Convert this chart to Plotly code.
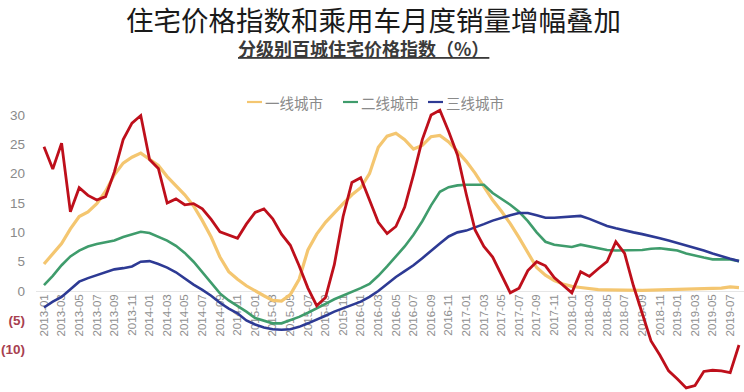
import plotly.graph_objects as go

# ---- categories ----
months = [f"{y}-{m:02d}" for y in range(2013, 2020) for m in range(1, 13)][:80]
tick_labels = months[::2]

# ---- series (%) ----
tier1 = [4.6, 6.3, 8.1, 10.6, 12.7, 13.5, 14.9, 17.0, 19.8, 21.8,
         22.8, 23.5, 22.4, 21.4, 19.5, 17.9, 16.4, 14.5, 12.0, 9.2,
         5.8, 3.3, 2.0, 0.9, 0.0, -0.8, -1.6, -1.7, -0.6, 2.0,
         7.0, 9.7, 11.7, 13.4, 14.9, 16.4, 17.6, 20.0, 24.5, 26.4,
         26.9, 25.8, 24.2, 24.8, 26.3, 26.5, 25.4, 23.8, 22.1, 20.1,
         17.8, 15.5, 13.6, 11.5, 9.1, 6.5, 4.0, 2.7, 1.8, 1.2,
         0.8, 0.6, 0.4, 0.25, 0.2, 0.15, 0.1, 0.1, 0.1, 0.15,
         0.2, 0.2, 0.3, 0.3, 0.4, 0.5, 0.5, 0.5, 0.7, 0.6]

tier2 = [1.0, 2.6, 4.4, 5.9, 6.9, 7.6, 8.0, 8.3, 8.6, 9.2,
         9.7, 10.1, 9.9, 9.3, 8.6, 7.7, 6.5, 5.0, 3.2, 1.4,
         -0.4, -1.6, -2.5, -3.5, -4.6, -5.1, -5.5, -5.5, -5.0, -4.4,
         -3.7, -3.0, -2.2, -1.4, -0.8, -0.1, 0.5, 1.2, 2.6, 4.2,
         5.9, 7.6, 9.6, 11.9, 14.6, 16.9, 17.7, 18.0, 18.1, 18.1,
         18.1, 16.7, 15.7, 14.7, 13.5, 11.9, 10.0, 8.4, 7.9, 7.7,
         7.5, 7.9, 7.6, 7.2, 7.0, 6.9, 6.9, 6.9, 7.0, 7.2,
         7.3, 7.1, 6.9, 6.4, 6.0, 5.7, 5.4, 5.4, 5.4, 5.1]

tier3 = [-2.8, -1.8, -1.0, 0.3, 1.6, 2.2, 2.7, 3.2, 3.7, 3.9,
         4.2, 5.0, 5.1, 4.6, 4.0, 3.2, 2.1, 1.1, 0.2, -0.8,
         -2.0, -3.0, -3.8, -5.0, -5.7, -6.2, -6.5, -6.6, -6.5, -6.1,
         -5.5, -4.9, -4.2, -3.5, -2.9, -2.4, -1.8, -1.0, 0.0, 1.2,
         2.4, 3.4, 4.4, 5.6, 6.9, 8.1, 9.3, 10.0, 10.3, 10.8,
         11.4, 12.0, 12.5, 12.9, 13.3, 13.3, 12.9, 12.5, 12.5, 12.6,
         12.8, 12.8, 12.3, 11.7, 11.1, 10.7, 10.3, 10.0, 9.7, 9.4,
         9.0, 8.6, 8.2, 7.8, 7.4, 6.9, 6.4, 5.9, 5.5, 5.1]

car_sales = [24.6, 20.8, 25.2, 13.5, 17.6, 16.3, 15.5, 16.1, 20.3, 25.8,
             28.6, 29.9, 22.4, 20.9, 15.0, 15.7, 14.7, 14.9, 14.0, 12.2,
             10.1, 9.5, 9.0, 11.4, 13.4, 14.0, 12.3, 9.7, 7.8, 4.3,
             0.5, -2.5, -1.1, 4.5, 12.7, 18.5, 19.3, 15.5, 11.7, 9.8,
             11.0, 14.3, 19.8, 25.8, 30.0, 30.8, 27.2, 23.2, 16.5, 10.4,
             7.6, 5.8, 2.8, -0.3, 0.5, 3.5, 5.0, 4.3, 2.3, 1.0,
             -0.3, 3.3, 2.5, 3.8, 5.0, 8.4, 6.4, 0.9, -4.0, -8.5,
             -10.9, -13.6, -15.0, -16.5, -16.1, -13.7, -13.5, -13.6, -13.9, -9.2]

y_tickvals = [30, 25, 20, 15, 10, 5, 0, -5, -10]
y_ticktext = ["30", "25", "20", "15", "10", "5", "0",
              "<span style='color:#a8404f'><b>(5)</b></span>",
              "<span style='color:#a8404f'><b>(10)</b></span>"]

series_names = ["一线城市", "二线城市", "三线城市"]
series_colors = ["#F4C670", "#3F9C6C", "#2D3A94"]
car_color = "#BE0F1B"

W, H = 744, 392
PL, PT = 36, 105          # plot-area left / top in pixels


def px(x):
    return x / W


def py(y):
    return 1 - y / H


fig = go.Figure()
for name, vals, col, w in zip(series_names, [tier1, tier2, tier3],
                              series_colors, [3.2, 2.6, 2.6]):
    fig.add_trace(go.Scatter(x=months, y=vals, mode="lines", name=name,
                             line=dict(color=col, width=w)))
fig.add_trace(go.Scatter(x=months, y=car_sales, mode="lines",
                         name="乘用车销量增幅",
                         line=dict(color=car_color, width=2.8)))

# custom legend (short swatches like the reference)
legend_swatch_x = [247, 343, 428]
legend_y = 102
shapes, annotations = [], []
for name, col, sx in zip(series_names, series_colors, legend_swatch_x):
    shapes.append(dict(type="line", xref="paper", yref="paper",
                       x0=px(sx), x1=px(sx + 15), y0=py(legend_y), y1=py(legend_y),
                       line=dict(color=col, width=2.2)))
    annotations.append(dict(text=name, xref="paper", yref="paper",
                            x=px(sx + 16), y=py(legend_y), xanchor="left",
                            yanchor="middle", showarrow=False,
                            font=dict(size=14.5, color="#8a8a8a")))

annotations += [
    dict(text="住宅价格指数和乘用车月度销量增幅叠加",
         xref="paper", yref="paper", x=px(373), y=py(18.5),
         xanchor="center", yanchor="middle", showarrow=False,
         font=dict(size=27.5, color="#1a1a1a")),
    dict(text="<u><b>分级别百城住宅价格指数（%）</b></u>",
         xref="paper", yref="paper", x=px(363), y=py(48.5),
         xanchor="center", yanchor="middle", showarrow=False,
         font=dict(size=18, color="#3a3a3a")),
]

fig.update_layout(
    width=W, height=H,
    margin=dict(l=0, r=0, t=0, b=0, pad=0),
    paper_bgcolor="white", plot_bgcolor="white",
    showlegend=False,
    font=dict(family="Noto Sans CJK SC, Liberation Sans, sans-serif"),
    xaxis=dict(type="category", domain=[px(PL), 1], range=[-0.909, 79.57],
               tickmode="array", tickvals=tick_labels, ticktext=tick_labels,
               tickangle=-90, ticks="", showgrid=False, showline=False,
               zeroline=False, anchor="free", position=py(291),
               layer="below traces", automargin=False,
               tickfont=dict(family="Liberation Sans, Arial, sans-serif",
                             size=11.5, color="#8e8e8e")),
    yaxis=dict(domain=[0, py(PT)], range=[-17.2, 31.7],
               tickmode="array", tickvals=y_tickvals, ticktext=y_ticktext,
               ticks="", showgrid=False, zeroline=True,
               zerolinecolor="#e6e6e6", zerolinewidth=1,
               ticklabelstandoff=10, layer="below traces", automargin=False,
               tickfont=dict(family="Liberation Sans, Arial, sans-serif",
                             size=13.5, color="#8a8a8a")),
    shapes=shapes,
    annotations=annotations,
)

# remove the browser's default 8px body margin so the figure fills the window
fig.write_html("out.html",
               config={"displayModeBar": False},
               post_script="document.body.style.margin='0';"
                           "document.body.style.overflow='hidden';")
